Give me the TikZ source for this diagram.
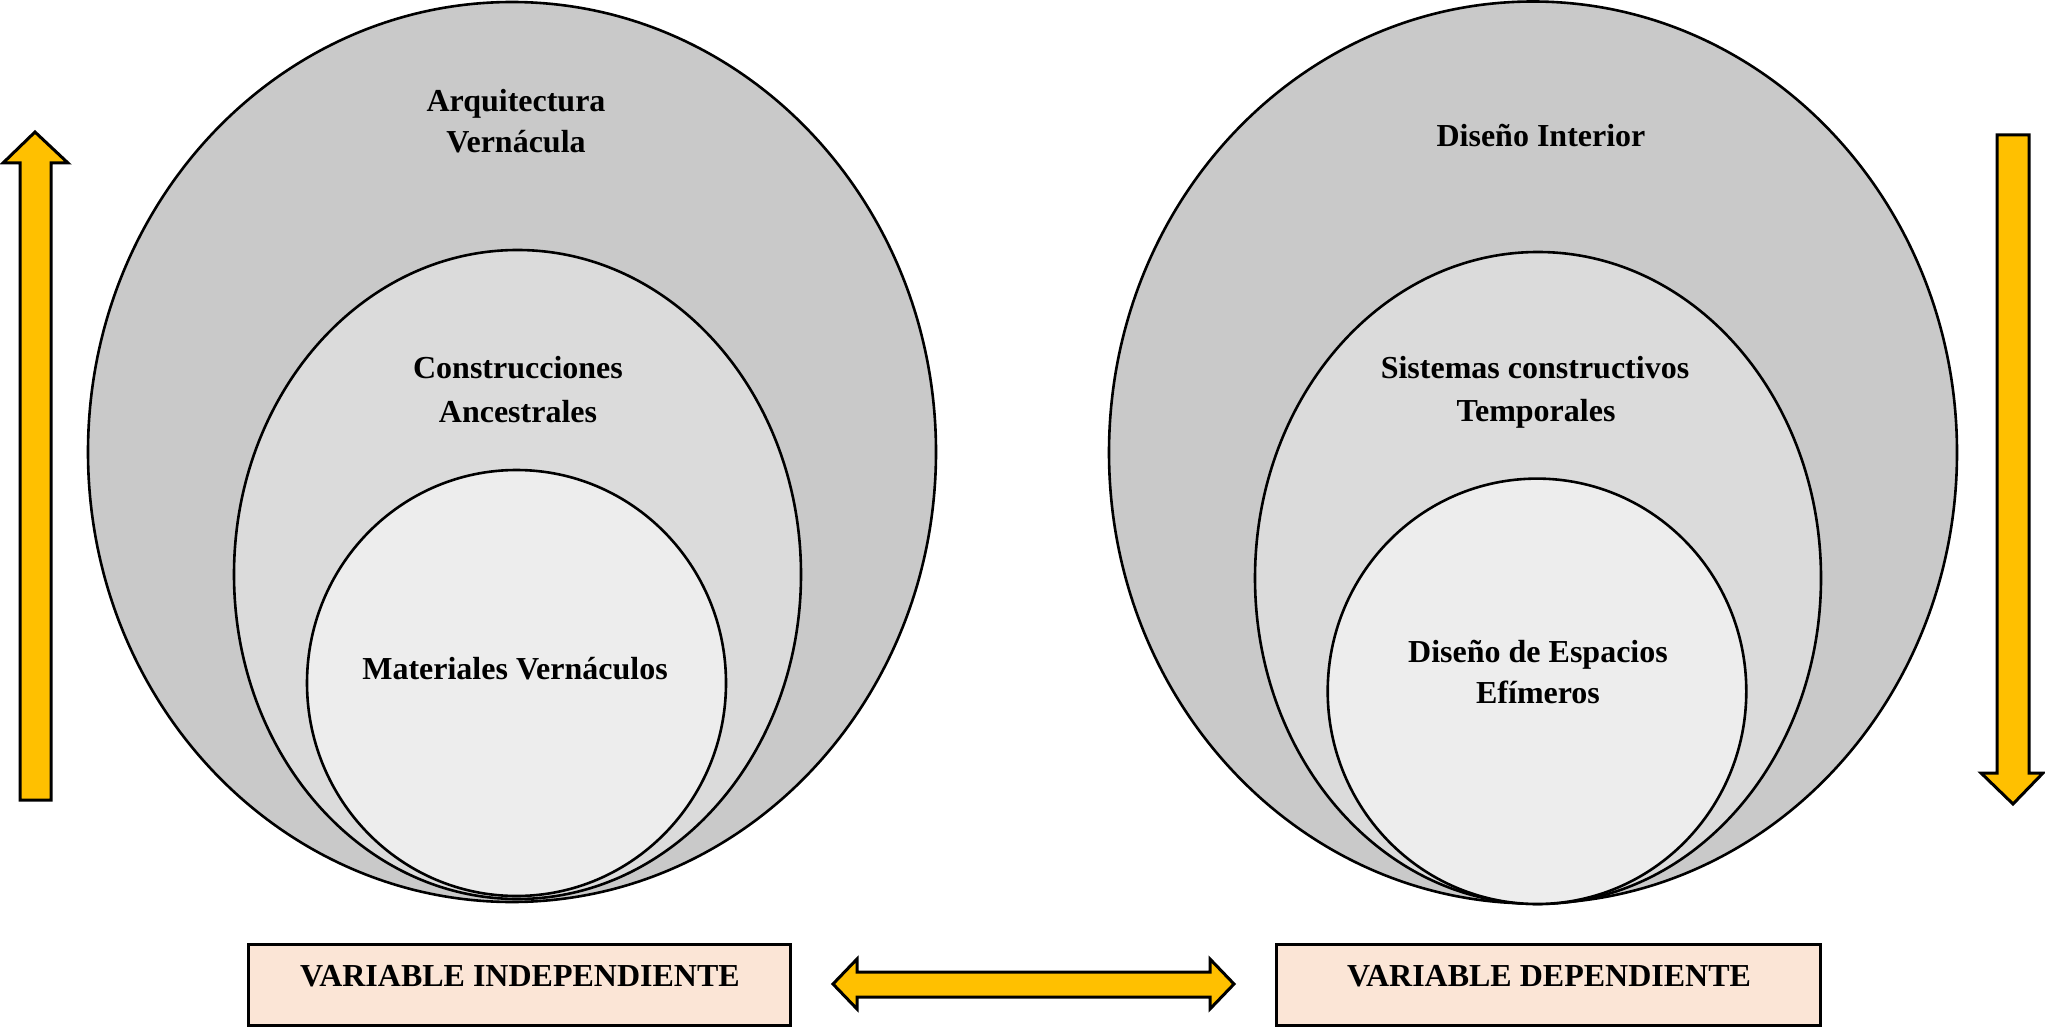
\documentclass[tikz,border=0pt]{standalone}
\usepackage{fontspec}
\setmainfont{Liberation Serif}
\usetikzlibrary{shapes.geometric}
\definecolor{gOuter}{HTML}{C9C9C9}
\definecolor{gMid}{HTML}{DBDBDB}
\definecolor{gIn}{HTML}{EDEDED}
\definecolor{boxfill}{HTML}{FBE5D6}
\definecolor{arrowfill}{HTML}{FFC000}
\tikzset{
  ell/.style={ellipse, draw=black, line width=1.3pt, inner sep=0pt, outer sep=0pt},
  lbl/.style={font=\fontsize{16pt}{21pt}\selectfont\bfseries, anchor=base, inner sep=0pt},
  varbox/.style={rectangle, draw=black, line width=1.5pt, fill=boxfill, inner sep=0pt},
  bigarrow/.style={draw=black, line width=1.5pt, fill=arrowfill, line join=miter},
}
\begin{document}
\begin{tikzpicture}[x=0.5pt,y=-0.5pt]
\useasboundingbox (0,0) rectangle (2045,1032);
% left group
\node[ell, fill=gOuter, minimum width=424pt, minimum height=450pt] (lo) at (512,452) {};
\node[ell, fill=gMid, minimum width=283.5pt, minimum height=324.5pt] (lm) at (517.5,574.5) {};
\node[ell, fill=gIn, minimum width=209.5pt, minimum height=213pt] (li) at (516.5,683) {};
% right group
\node[ell, fill=gOuter, minimum width=424pt, minimum height=451pt] (ro) at (1533,452.5) {};
\node[ell, fill=gMid, minimum width=283pt, minimum height=326pt] (rm) at (1538,578) {};
\node[ell, fill=gIn, minimum width=209.3pt, minimum height=212.7pt] (ri) at (1537,691.3) {};
% labels
\node[lbl] (t1a) at (516,112) {Arquitectura};
\node[lbl] (t1b) at (516,153) {Vernácula};
\node[lbl] (t2a) at (518,379) {Construcciones};
\node[lbl] (t2b) at (518,422) {Ancestrales};
\node[lbl] (t3) at (515,679) {Materiales Vernáculos};
\node[lbl] (t4) at (1541,147) {Diseño Interior};
\node[lbl] (t5a) at (1535,379) {Sistemas constructivos};
\node[lbl] (t5b) at (1536,421) {Temporales};
\node[lbl] (t6a) at (1538,662) {Diseño de Espacios};
\node[lbl] (t6b) at (1538,703) {Efímeros};
% boxes
\node[varbox, minimum width=271pt, minimum height=40.5pt] (vi) at (519,984.5) {};
\node[lbl] (vit) at (520,986) {VARIABLE INDEPENDIENTE};
\node[varbox, minimum width=272pt, minimum height=40.5pt] (vd) at (1548.7,984.5) {};
\node[lbl] (vdt) at (1549,986) {VARIABLE DEPENDIENTE};
% arrows
\draw[bigarrow] (35,132) -- (3,163) -- (20,163) -- (20,800) -- (51,800) -- (51,163) -- (68,163) -- cycle;
\draw[bigarrow] (1997,135) -- (2029,135) -- (2029,773) -- (2043,773) -- (2013,804) -- (1981,773) -- (1997,773) -- cycle;
\draw[bigarrow] (833,984) -- (857,959) -- (857,972) -- (1210,972) -- (1210,959) -- (1234,984) -- (1210,1009) -- (1210,997) -- (857,997) -- (857,1009) -- cycle;
\end{tikzpicture}
\end{document}
